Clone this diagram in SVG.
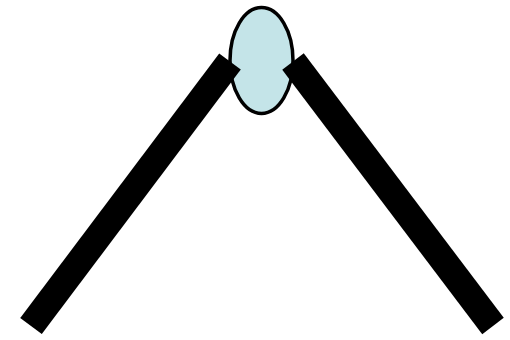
<svg xmlns="http://www.w3.org/2000/svg" width="510" height="340" viewBox="0 0 510 340">
<style>
.node{fill:#C4E4E8;stroke:#000;stroke-width:3.5}
.conn{stroke:#000;stroke-width:27;stroke-linecap:butt;fill:none}
</style>
<rect width="510" height="340" fill="#fff"/>
<g id="node-ellipse"><ellipse class="node" cx="261.5" cy="60.5" rx="31.5" ry="53"/></g>
<g id="connectors">
<line class="conn" x1="31" y1="326" x2="230" y2="61.5"/>
<line class="conn" x1="493" y1="326" x2="293" y2="61.5"/>
</g>
</svg>
